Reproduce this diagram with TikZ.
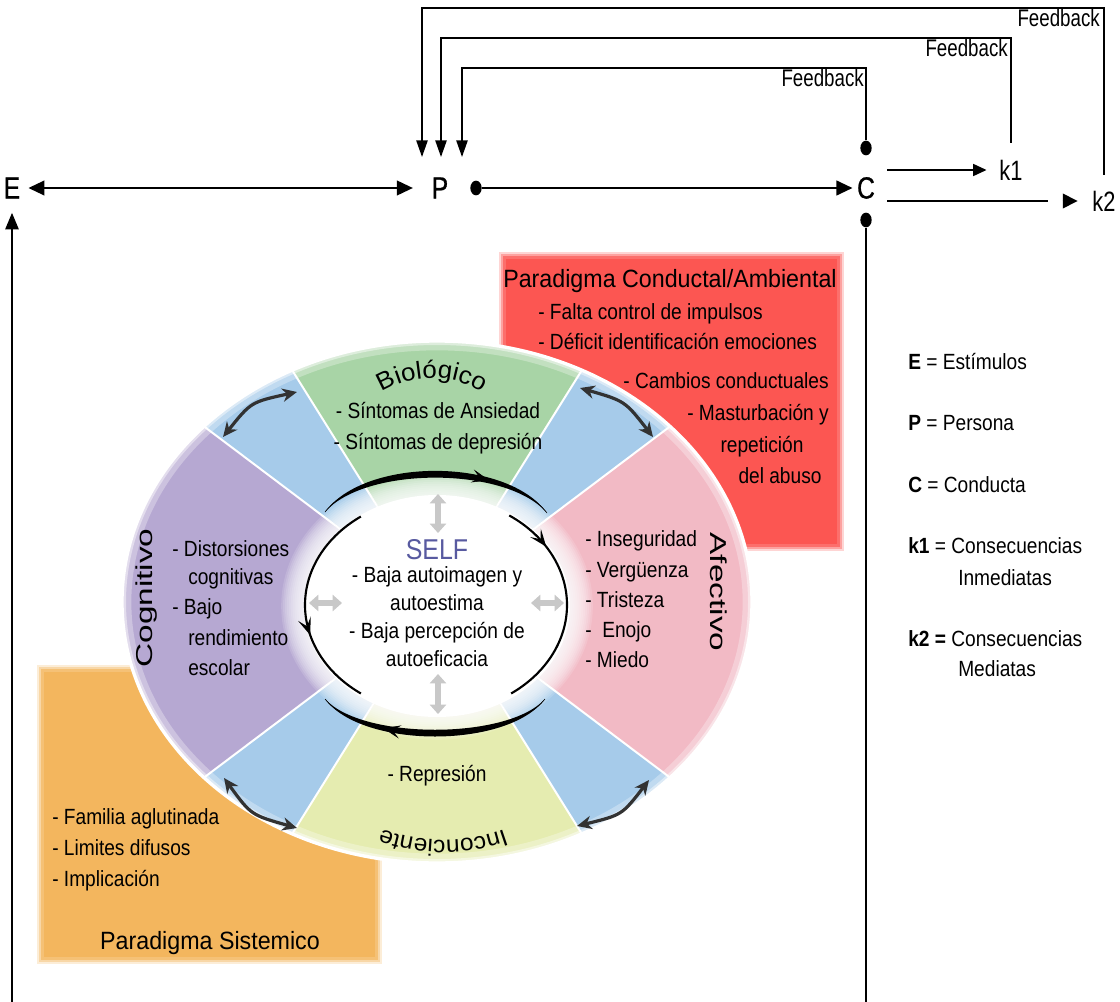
\documentclass[tikz,border=0pt]{standalone}
\usepackage{fontspec}
\setmainfont{Liberation Sans}[FakeStretch=0.87]
\newfontfamily\condf{Liberation Sans}[FakeStretch=0.78]
\newfontfamily\condbf{Liberation Sans}[FakeStretch=0.8, FakeBold=0.8]
\newfontfamily\widef{Liberation Sans}[FakeStretch=1.45]
\newfontfamily\plainf{Liberation Sans}[FakeStretch=1.05]
\newfontfamily\titlef{Liberation Sans}[FakeStretch=0.93]
\usetikzlibrary{arrows.meta,decorations.text,decorations.markings,calc,shapes.geometric}
\definecolor{cRed}{RGB}{252,86,82}
\definecolor{cOrange}{RGB}{243,182,94}
\definecolor{cGreen}{RGB}{168,212,166}
\definecolor{cBlue}{RGB}{166,203,234}
\definecolor{cPink}{RGB}{242,186,197}
\definecolor{cPurple}{RGB}{182,168,210}
\definecolor{cYellow}{RGB}{229,236,176}
\definecolor{cSelf}{RGB}{88,90,160}
\definecolor{cDark}{RGB}{50,50,50}
\definecolor{cGray}{RGB}{200,200,200}
\tikzset{
  body/.style={font=\fontsize{16.5}{20}\selectfont, inner sep=0pt},
  titletext/.style={font=\titlef\fontsize{18.75}{20}\selectfont, inner sep=0pt},
  letter/.style={font=\condbf\fontsize{23}{23}\selectfont, inner sep=0pt},
  kletter/.style={font=\condf\fontsize{21}{21}\selectfont, inner sep=0pt},
  fbtext/.style={font=\condf\fontsize{18}{18}\selectfont, inner sep=0pt},
  sectitle/.style={font=\widef\fontsize{17.25}{17.25}\selectfont, inner sep=0pt},
  dotn/.style={ellipse, fill=black, inner sep=0pt, minimum width=8.5pt, minimum height=11pt},
  mainline/.style={line width=1.5pt},
  fbline/.style={line width=1.1pt},
  dbl/.style={draw=cDark, line width=2.4pt, {Stealth[length=11pt,width=10pt,inset=3.5pt]}-{Stealth[length=11pt,width=10pt,inset=3.5pt]}},
  grayarr/.style={draw=cGray, line width=3.8pt, {Triangle[length=7pt,width=12pt]}-{Triangle[length=7pt,width=12pt]}},
  midarrow/.style={postaction={decorate}, decoration={markings, mark=at position #1 with {\arrow[black]{Stealth[length=13pt,width=10pt,inset=6pt]}}}},
  tria/.tip={Triangle[length=12pt,width=11pt]},
  trib/.tip={Triangle[length=12.5pt,width=10pt]},
  tric/.tip={Triangle[length=12.5pt,width=8.5pt]},
  trik/.tip={Triangle[length=10pt,width=9pt]},
}
\begin{document}
\begin{tikzpicture}[x=0.75pt,y=-0.75pt]
\fill[white] (0,0) rectangle (1120,1002);
\useasboundingbox (0,0) rectangle (1120,1002);

% ---------- paradigm boxes ----------
\fill[cRed!25] (499,252) rectangle (844,551);
\fill[cRed!55] (501,254) rectangle (842,549);
\fill[cRed!85] (503,256) rectangle (840,547);
\fill[cRed] (506,259) rectangle (837,544);

\fill[cOrange!25] (37,665) rectangle (382,964);
\fill[cOrange!55] (39,667) rectangle (380,962);
\fill[cOrange!85] (41,669) rectangle (378,960);
\fill[cOrange] (44,672) rectangle (375,957);

% ---------- ellipse sectors ----------
\coordinate (O) at (437,602);
\begin{scope}
  \clip (O) ellipse [x radius=315, y radius=261];
  \fill[cBlue] (O) ellipse [x radius=315, y radius=261];
  \fill[cPink] (O) -- ($(O)+(-37:600)$) -- ($(O)+(0:600)$) -- ($(O)+(37:600)$) -- cycle;
  \fill[cGreen] (O) -- ($(O)+(-122:600)$) -- ($(O)+(-90:600)$) -- ($(O)+(-58:600)$) -- cycle;
  \fill[cPurple] (O) -- ($(O)+(143:600)$) -- ($(O)+(180:600)$) -- ($(O)+(217:600)$) -- cycle;
  \fill[cYellow] (O) -- ($(O)+(58:600)$) -- ($(O)+(90:600)$) -- ($(O)+(122:600)$) -- cycle;
  \foreach \a in {37,58,122,143,-37,-58,-122,-143}
    \draw[white, line width=1.5pt] (O) -- ($(O)+(\a:600)$);
  \draw[white, opacity=0.3, line width=14pt] (O) ellipse [x radius=315, y radius=261];
  \draw[white, opacity=0.45, line width=6pt] (O) ellipse [x radius=315, y radius=261];
\end{scope}
\draw[white, line width=2.5pt] (O) ellipse [x radius=315, y radius=261];

% ---------- SELF core with soft glow ----------
\coordinate (S) at (437,606);
\foreach \i [evaluate=\i as \rx using 133+1.9*\i, evaluate=\i as \ry using 111+1.9*\i] in {12,11,...,1}
  \fill[white, opacity=0.14] (S) ellipse [x radius=\rx, y radius=\ry];
\fill[white] (S) ellipse [x radius=133, y radius=111];

% ---------- black circulation arrows ----------
\fill[black] (325,512) .. controls (365,457) and (507,457) .. (547,513)
   .. controls (507,466) and (365,466) .. (325,512) -- cycle;
\draw[line width=0.4pt, midarrow=0.72] (325,512) .. controls (365,461) and (507,461) .. (547,513);
\fill[black] (545,699) .. controls (508,749) and (362,749) .. (325,699)
   .. controls (362,740) and (508,740) .. (545,699) -- cycle;
\draw[line width=0.4pt, midarrow=0.72] (545,699) .. controls (508,745) and (362,745) .. (325,699);
\coordinate (S2) at (436,605);
\draw[line width=1.6pt, midarrow=0.22] ($(S2)+(-56:131 and 108)$) arc[start angle=-56, end angle=55, x radius=131, y radius=108];
\draw[line width=1.6pt, midarrow=0.64] ($(S2)+(-125:131 and 108)$) arc[start angle=-125, end angle=-235, x radius=131, y radius=108];

% ---------- dark double arrows in blue sectors ----------
\coordinate (d1a) at (223,437); \coordinate (d1c) at (251,402); \coordinate (d1b) at (297,392);
\coordinate (d2a) at (580,388); \coordinate (d2c) at (625,401); \coordinate (d2b) at (653,437);
\coordinate (d3a) at (224,778); \coordinate (d3c) at (251,815); \coordinate (d3b) at (297,828);
\coordinate (d4a) at (577,826); \coordinate (d4c) at (622,815); \coordinate (d4b) at (649,780);
\draw[dbl] (d1a) .. controls (d1c) .. (d1b);
\draw[dbl] (d2a) .. controls (d2c) .. (d2b);
\draw[dbl] (d3a) .. controls (d3c) .. (d3b);
\draw[dbl] (d4a) .. controls (d4c) .. (d4b);

% ---------- gray arrows in SELF ----------
\coordinate (g1a) at (438,494); \coordinate (g1b) at (438,533);
\coordinate (g2a) at (438,674); \coordinate (g2b) at (438,714);
\coordinate (g3a) at (309,603); \coordinate (g3b) at (342,603);
\coordinate (g4a) at (531,603); \coordinate (g4b) at (564,603);
\draw[grayarr] (g1a) -- (g1b);
\draw[grayarr] (g2a) -- (g2b);
\draw[grayarr] (g3a) -- (g3b);
\draw[grayarr] (g4a) -- (g4b);

% ---------- sector titles ----------
\path[decorate, decoration={text along path, text align=center,
  text={|\plainf\fontsize{18.5}{18.5}\selectfont|Biológico}}]
  ($(432,474)+(-140:96)$) arc[start angle=-140, end angle=-40, radius=96];
\path[decorate, decoration={text along path, text align=center,
  text={|\plainf\fontsize{17.5}{17.5}\selectfont|Inconciente}}]
  ($(443,659)+(60:181)$) arc[start angle=60, end angle=120, radius=181];
\node[sectitle, rotate=90] (cog) at (147,598) {Cognitivo};
\node[sectitle, rotate=-90] (afe) at (719,592) {Afectivo};

% ---------- sector contents ----------
\node[body, anchor=base] (bio1) at (438,418) {- Síntomas de Ansiedad};
\node[body, anchor=base] (bio2) at (438,449) {- Síntomas de depresión};

\node[font=\fontsize{21.5}{21.5}\selectfont, text=cSelf, inner sep=0pt, anchor=base] (self) at (437,559) {SELF};
\node[body, anchor=base] (s1) at (437,582) {- Baja autoimagen y};
\node[body, anchor=base] (s2) at (437,610) {autoestima};
\node[body, anchor=base] (s3) at (437,638) {- Baja percepción de};
\node[body, anchor=base] (s4) at (437,666) {autoeficacia};

\node[body, anchor=base west] (c1) at (172,556) {- Distorsiones};
\node[body, anchor=base west] (c2) at (188,584) {cognitivas};
\node[body, anchor=base west] (c3) at (172,614) {- Bajo};
\node[body, anchor=base west] (c4) at (188,645) {rendimiento};
\node[body, anchor=base west] (c5) at (188,675) {escolar};

\node[body, anchor=base west] (f1) at (585,546) {- Inseguridad};
\node[body, anchor=base west] (f2) at (585,577) {- Vergüenza};
\node[body, anchor=base west] (f3) at (585,607) {- Tristeza};
\node[body, anchor=base west] (f4) at (585,637) {-\ \ Enojo};
\node[body, anchor=base west] (f5) at (585,667) {- Miedo};

\node[body, anchor=base] (r1) at (437,781) {- Represión};

% ---------- paradigm texts ----------
\node[titletext, anchor=base] (pt1) at (670,287) {Paradigma Conductal/Ambiental};
\node[body, anchor=base west] (a1) at (538,319) {- Falta control de impulsos};
\node[body, anchor=base west] (a2) at (538,349) {- Déficit identificación emociones};
\node[body, anchor=base east] (a3) at (829,388) {- Cambios conductuales};
\node[body, anchor=base east] (a4) at (829,420) {- Masturbación y};
\node[body, anchor=base] (a5) at (762,452) {repetición};
\node[body, anchor=base] (a6) at (780,483) {del abuso};

\node[body, anchor=base west] (o1) at (52,824) {- Familia aglutinada};
\node[body, anchor=base west] (o2) at (52,855) {- Limites difusos};
\node[body, anchor=base west] (o3) at (52,886) {- Implicación};
\node[titletext, anchor=base] (pt2) at (210,949) {Paradigma Sistemico};

% ---------- legend ----------
\node[body, anchor=base west] (l1) at (908,369) {\textbf{E} = Estímulos};
\node[body, anchor=base west] (l2) at (908,430) {\textbf{P} = Persona};
\node[body, anchor=base west] (l3) at (908,492) {\textbf{C} = Conducta};
\node[body, anchor=base west] (l4) at (908,553) {\textbf{k1} = Consecuencias};
\node[body, anchor=base west] (l5) at (958,585) {Inmediatas};
\node[body, anchor=base west] (l6) at (908,646) {\textbf{k2 =} Consecuencias};
\node[body, anchor=base west] (l7) at (958,676) {Mediatas};

% ---------- E P C model ----------
\node[letter] (E) at (12,188) {E};
\node[letter] (P) at (440,188) {P};
\node[letter] (C) at (866,188) {C};
\node[kletter] (k1) at (1011,170) {k1};
\node[kletter] (k2) at (1104,201) {k2};
\node[dotn] (pdot) at (476,188) {};
\node[dotn] (cdot1) at (866,148) {};
\node[dotn] (cdot2) at (866,220) {};
\coordinate (ebot) at (12,1012);
\coordinate (cbot) at (866,1012);

\draw[mainline, tria-tria, shorten <=6pt, shorten >=14pt] (E) -- (P);
\draw[mainline, -tria, shorten >=3.3pt] (pdot) -- (C);
\draw[mainline, -trib, shorten >=10.5pt] (ebot) -- (E);
\draw[mainline] (cdot2) -- (cbot);

\coordinate (fb1) at (462,68);
\coordinate (fb2) at (441,38);
\coordinate (fb3) at (422,8);
\coordinate (tip1) at (462,157);
\coordinate (tip2) at (441,157);
\coordinate (tip3) at (422,157);
\draw[fbline, -tric] (cdot1) |- (fb1) -- (tip1);
\draw[fbline, -tric, shorten <=12.5pt] (k1) |- (fb2) -- (tip2);
\draw[fbline, -tric, shorten <=11.75pt] (k2) |- (fb3) -- (tip3);

\node[fbtext, anchor=base east] (fbl1) at (864,87) {Feedback};
\node[fbtext, anchor=base east] (fbl2) at (1008,57) {Feedback};
\node[fbtext, anchor=base east] (fbl3) at (1100,27) {Feedback};

\draw[fbline, -trik, shorten <=9pt, shorten >=9.5pt] (C.east |- k1.west) -- (k1.west);
\draw[fbline, shorten <=9pt, shorten >=33.5pt] (C.east |- k2.west) -- (k2.west);
\draw[fbline, -{Triangle[length=11pt,width=11pt]}] ([xshift=-22.25pt]k2.west) -- ([xshift=-11pt]k2.west);
\end{tikzpicture}
\end{document}
